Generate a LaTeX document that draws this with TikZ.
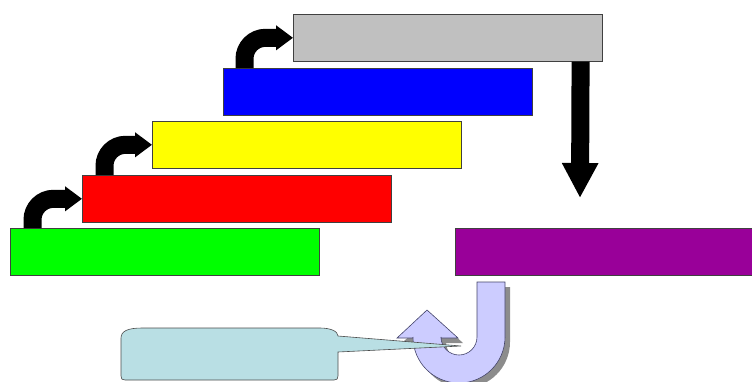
\documentclass[tikz,border=0pt]{standalone}
\usetikzlibrary{arrows.meta}
\definecolor{barpurple}{HTML}{990099}
\definecolor{bargray}{HTML}{C0C0C0}
\definecolor{baryellow}{HTML}{FFFF00}
\definecolor{jfill}{HTML}{CCCCFF}
\definecolor{jline}{HTML}{44446A}
\definecolor{callfill}{HTML}{B9DFE4}
\newcommand{\jshape}{(505,282) -- (505,337) arc[start angle=0,end angle=180,radius=46]
    -- (413,338) -- (397,338) -- (427,310) -- (458,338) -- (441,338) -- (441,337)
    arc[start angle=180,end angle=0,radius=18] -- (477,282) -- cycle}
\begin{document}
\begin{tikzpicture}
    [
    x=1pt, y=-1pt,
    bar/.style={
        rectangle,
        draw=black!75,
        line width=0.6pt,
        minimum width=309pt,
        minimum height=47pt,
        inner sep=0pt,
        anchor=north west
    },
    hop/.style={-{Triangle[length=17pt,width=24pt]}, line width=18pt, rounded corners=21pt},
    drop/.style={-{Triangle[length=35pt,width=34pt]}, line width=18pt}
    ]
    \useasboundingbox (0,0) rectangle (752,381);

% Stairs
    \node[bar, fill=green] (s1) at (10,228) {};
    \node[bar, fill=red] (s2) at (82,175) {};
    \node[bar, fill=baryellow] (s3) at (152,121) {};
    \node[bar, fill=blue] (s4) at (223,68) {};
    \node[bar, fill=bargray] (s5) at (293,14) {};

% Goal
    \node[bar, fill=barpurple, minimum width=298pt] (goal) at (455,228) {};

% Step arrows
    \draw[hop] ([xshift=22.5pt]s1.north west) |- (s2.west);
    \draw[hop] ([xshift=22.5pt]s2.north west) |- (s3.west);
    \draw[hop] ([xshift=21.5pt]s4.north west) |- (s5.west);

% Down arrow
    \coordinate (droptip) at (580,198);
    \draw[drop] ([xshift=-22pt]s5.south east) -- (droptip);

% U-turn arrow
    \fill[black!45, shift={(5,5)}] \jshape;
    \draw[fill=jfill, draw=jline, line width=0.6pt] \jshape;

% Callout
    \draw[fill=callfill, draw=black!70, line width=0.6pt]
        (121,376) -- (121,338) .. controls (121,331) and (128,328) .. (142,328)
        -- (320,328) .. controls (330,328) and (338,331) .. (338,336)
        -- (461,346) -- (338,352) -- (338,376)
        .. controls (338,379) and (337,380) .. (334,380) -- (125,380)
        .. controls (122,380) and (121,379) .. (121,376) -- cycle;

\end{tikzpicture}
\end{document}
